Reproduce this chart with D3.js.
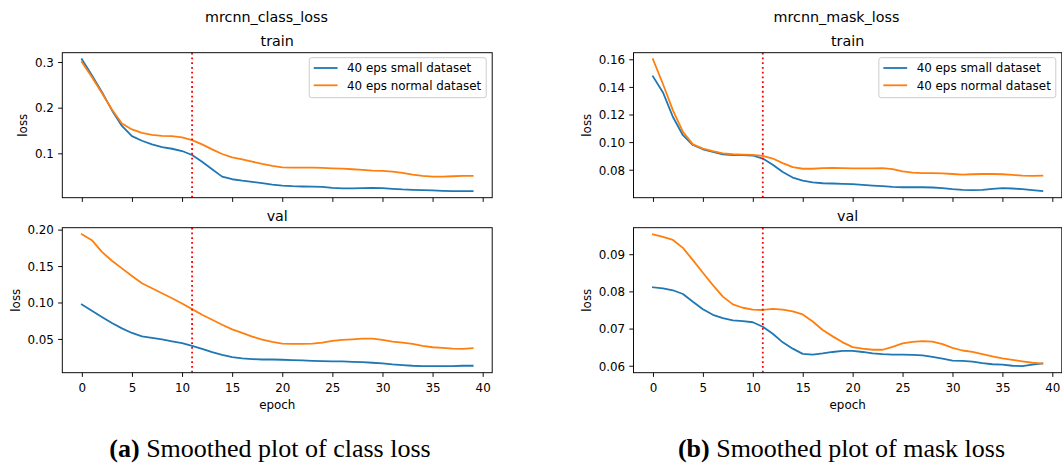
<!DOCTYPE html>
<html>
<head>
<meta charset="utf-8">
<script src="https://d3js.org/d3.v7.min.js"></script>
<style>
  body { margin: 0; background: #fff; }
  svg { display: block; font-family: "DejaVu Sans", sans-serif; }
</style>
</head>
<body>
<svg id="chart"></svg>
<script>
// ---- data ----
const seriesNames = ["40 eps small dataset", "40 eps normal dataset"];
const epochs = d3.range(40);
const markerEpoch = 11;
const xTicks = [0, 5, 10, 15, 20, 25, 30, 35, 40];

const classTrainSmall = [0.306,0.271,0.2345,0.1945,0.160,0.1378,0.1275,0.1196,0.1138,0.110,
  0.105,0.0963,0.0817,0.065,0.0489,0.0432,0.040,0.0373,0.0345,0.0314,
  0.0293,0.028,0.0273,0.027,0.0265,0.0242,0.023,0.023,0.0237,0.0243,
  0.0237,0.0223,0.0208,0.020,0.0194,0.019,0.0179,0.0172,0.0172,0.0172];
const classTrainNormal = [0.300,0.267,0.232,0.196,0.1655,0.1524,0.145,0.1406,0.1384,0.1378,
  0.135,0.129,0.1197,0.1087,0.0985,0.0912,0.0869,0.0817,0.0767,0.0723,
  0.0694,0.0687,0.0687,0.0687,0.068,0.0672,0.0665,0.0651,0.0636,0.0622,
  0.0614,0.060,0.0571,0.0534,0.0505,0.049,0.049,0.0498,0.0505,0.0505];
const classValSmall = [0.0973,0.0886,0.080,0.0718,0.0645,0.0582,0.0536,0.0514,0.0495,0.0468,
  0.0441,0.0405,0.0364,0.0318,0.0282,0.025,0.0232,0.0223,0.0218,0.0218,
  0.0214,0.0209,0.0205,0.020,0.0196,0.0191,0.0191,0.0186,0.0182,0.0173,
  0.0164,0.015,0.0141,0.0132,0.0127,0.0127,0.0127,0.0127,0.0132,0.0132];
const classValNormal = [0.1936,0.1855,0.1695,0.1573,0.1468,0.1364,0.1264,0.1195,0.1127,0.1059,
  0.0986,0.0909,0.0832,0.0764,0.0695,0.0632,0.0582,0.0532,0.0491,0.0459,
  0.0436,0.0432,0.0432,0.0436,0.045,0.0473,0.0486,0.0495,0.0505,0.0505,
  0.0486,0.0464,0.045,0.0432,0.0405,0.0386,0.0377,0.0368,0.0364,0.0373];

const maskTrainSmall = [0.1476,0.136,0.1182,0.105,0.0979,0.0948,0.0929,0.0912,0.0905,0.0905,
  0.0903,0.0881,0.0836,0.0783,0.0743,0.0721,0.0709,0.0702,0.070,0.0697,
  0.0695,0.069,0.0685,0.0681,0.0676,0.0673,0.0673,0.0673,0.0671,0.0666,
  0.0659,0.0654,0.0652,0.0654,0.0661,0.0666,0.0664,0.0659,0.0652,0.0645];
const maskTrainNormal = [0.160,0.1421,0.123,0.1075,0.0984,0.0953,0.0934,0.0919,0.0912,0.091,
  0.0907,0.090,0.0881,0.0848,0.0819,0.0807,0.0807,0.0812,0.0814,0.0812,
  0.081,0.081,0.081,0.0812,0.0805,0.0788,0.0779,0.0776,0.0776,0.0774,
  0.0769,0.0764,0.0767,0.0769,0.0769,0.0767,0.0762,0.0757,0.0755,0.0757];
const maskValSmall = [0.0811,0.0808,0.0803,0.0793,0.0772,0.0752,0.0737,0.0728,0.0722,0.072,
  0.0717,0.0705,0.0686,0.0663,0.0646,0.0632,0.063,0.0633,0.0637,0.064,
  0.064,0.0637,0.0633,0.0631,0.063,0.063,0.0629,0.0628,0.0624,0.0619,
  0.0614,0.0613,0.0611,0.0607,0.0604,0.0603,0.060,0.0599,0.0603,0.0606];
const maskValNormal = [0.09536,0.09464,0.09384,0.0917,0.0884,0.085,0.0817,0.0786,0.0765,0.0756,
  0.0751,0.075,0.0753,0.0751,0.0746,0.0738,0.0719,0.0696,0.0679,0.0663,
  0.065,0.0646,0.0643,0.0643,0.0651,0.066,0.0664,0.0666,0.0665,0.0658,
  0.0648,0.0641,0.0637,0.0631,0.0625,0.062,0.0616,0.0612,0.0608,0.0606];

const classTrainTicks = [0.1, 0.2, 0.3];
const classValTicks = [0.05, 0.10, 0.15, 0.20];
const maskTrainTicks = [0.08, 0.10, 0.12, 0.14, 0.16];
const maskValTicks = [0.06, 0.07, 0.08, 0.09];

const suptitles = ["mrcnn_class_loss", "mrcnn_mask_loss"];
const captions = [["(a)", " Smoothed plot of class loss"], ["(b)", " Smoothed plot of mask loss"]];

// ---- layout ----
const width = 1062, height = 465;
const colors = ["#1f77b4", "#ff7f0e"];
const fs = 11.9, titleFs = 14.3;
const tickLen = 4.2, tickPad = 4.2;

const svg = d3.select("#chart").attr("width", width).attr("height", height);

const cols = [{ x0: 62.3, x1: 492.2, cx: 266.5, capX: 270 },
              { x0: 633.5, x1: 1061.8, cx: 836.5, capX: 841.5 }];
const rows = [{ y0: 52.7, y1: 197.7 }, { y0: 227.7, y1: 372.7 }];

const panels = [
  { col: 0, row: 0, title: "train", data: [classTrainSmall, classTrainNormal], ticks: classTrainTicks, fmt: d3.format(".1f"), legend: true },
  { col: 0, row: 1, title: "val", data: [classValSmall, classValNormal], ticks: classValTicks, fmt: d3.format(".2f") },
  { col: 1, row: 0, title: "train", data: [maskTrainSmall, maskTrainNormal], ticks: maskTrainTicks, fmt: d3.format(".2f"), legend: true },
  { col: 1, row: 1, title: "val", data: [maskValSmall, maskValNormal], ticks: maskValTicks, fmt: d3.format(".2f") },
];

panels.forEach(p => {
  const c = cols[p.col], r = rows[p.row];
  const x = d3.scaleLinear().domain([-1.95, 40.95]).range([c.x0, c.x1]);
  const ext = d3.extent(p.data.flat());
  const pad = (ext[1] - ext[0]) * 0.05;
  const y = d3.scaleLinear().domain([ext[0] - pad, ext[1] + pad]).range([r.y1, r.y0]);

  const g = svg.append("g");

  // clip for lines
  const clipId = `clip-${p.col}-${p.row}`;
  g.append("clipPath").attr("id", clipId)
    .append("rect").attr("x", c.x0).attr("y", r.y0).attr("width", c.x1 - c.x0).attr("height", r.y1 - r.y0);

  const line = d3.line().x((d, i) => x(epochs[i])).y(d => y(d));
  g.append("g").attr("clip-path", `url(#${clipId})`)
    .selectAll("path").data(p.data).join("path")
    .attr("d", line).attr("fill", "none")
    .attr("stroke", (d, i) => colors[i]).attr("stroke-width", 1.8)
    .attr("stroke-linejoin", "round").attr("stroke-linecap", "square");

  // red dotted marker
  g.append("line")
    .attr("x1", x(markerEpoch)).attr("x2", x(markerEpoch))
    .attr("y1", r.y0).attr("y2", r.y1)
    .attr("stroke", "red").attr("stroke-width", 1.8)
    .attr("stroke-dasharray", "1.8,2.97");

  // axes
  const xAxis = g.append("g").attr("transform", `translate(0,${r.y1})`)
    .call(d3.axisBottom(x).tickValues(xTicks).tickSize(tickLen).tickPadding(tickPad)
      .tickFormat(p.row === 0 ? () => "" : d3.format("d")));
  const yAxis = g.append("g").attr("transform", `translate(${c.x0},0)`)
    .call(d3.axisLeft(y).tickValues(p.ticks).tickSize(tickLen).tickPadding(tickPad).tickFormat(p.fmt));
  [xAxis, yAxis].forEach(a => {
    a.select(".domain").remove();
    a.selectAll(".tick line").attr("stroke", "#000").attr("stroke-width", 0.95);
    a.selectAll(".tick text").attr("fill", "#000").style("font-size", fs + "px")
      .style("font-family", '"DejaVu Sans", sans-serif');
  });
  xAxis.selectAll(".tick text").attr("dy", null).attr("y", tickLen + tickPad + 11.0);
  yAxis.selectAll(".tick text").attr("dy", "0.36em");

  // frame
  g.append("rect").attr("x", c.x0).attr("y", r.y0)
    .attr("width", c.x1 - c.x0).attr("height", r.y1 - r.y0)
    .attr("fill", "none").attr("stroke", "#000").attr("stroke-width", 0.95);

  // title
  g.append("text").attr("x", (c.x0 + c.x1) / 2).attr("y", r.y0 - 7.2)
    .attr("text-anchor", "middle").style("font-size", titleFs + "px").text(p.title);

  // y label, placed left of the widest tick label
  let maxW = 0;
  yAxis.selectAll(".tick text").each(function () { maxW = Math.max(maxW, this.getComputedTextLength()); });
  const lx = c.x0 - tickLen - tickPad - maxW - 4.8 - 2.8;
  g.append("text")
    .attr("transform", `translate(${lx},${(r.y0 + r.y1) / 2}) rotate(-90)`)
    .attr("text-anchor", "middle").style("font-size", fs + "px").text("loss");

  if (p.row === 1) {
    g.append("text").attr("x", (c.x0 + c.x1) / 2).attr("y", r.y1 + 36.3)
      .attr("text-anchor", "middle").style("font-size", fs + "px").text("epoch");
  }

  if (p.legend) {
    const lg = g.append("g");
    const box = lg.append("rect");
    const rowsY = [10.3, 27.6];
    const items = lg.selectAll("g").data(seriesNames).join("g");
    items.append("line")
      .attr("x1", 0).attr("x2", 23.8)
      .attr("y1", (d, i) => rowsY[i]).attr("y2", (d, i) => rowsY[i])
      .attr("stroke", (d, i) => colors[i]).attr("stroke-width", 1.8);
    const texts = items.append("text")
      .attr("x", 23.8 + 9.5).attr("y", (d, i) => rowsY[i]).attr("dy", "0.36em")
      .style("font-size", fs + "px").attr("fill", "#000").text(d => d);
    let tw = 0;
    texts.each(function () { tw = Math.max(tw, this.getComputedTextLength()); });
    const bw = 4.5 + 23.8 + 9.5 + tw + 5;
    const bx = c.x1 - 6 - bw, by = r.y0 + 5;
    box.attr("x", -4.5).attr("y", 0).attr("width", bw).attr("height", 40)
      .attr("rx", 2.4).attr("fill", "#fff").attr("fill-opacity", 0.8)
      .attr("stroke", "#ccc").attr("stroke-width", 1);
    lg.attr("transform", `translate(${bx + 4.5},${by})`);
  }
});

// figure titles
svg.selectAll(".suptitle").data(suptitles).join("text")
  .attr("class", "suptitle")
  .attr("x", (d, i) => cols[i].cx).attr("y", 21.5)
  .attr("text-anchor", "middle").style("font-size", titleFs + "px").text(d => d);

// captions
const cap = svg.selectAll(".caption").data(captions).join("text")
  .attr("class", "caption")
  .attr("x", (d, i) => cols[i].capX).attr("y", 457)
  .attr("text-anchor", "middle")
  .style("font-family", '"Liberation Serif", "Times New Roman", serif')
  .style("font-size", "26px");
cap.append("tspan").style("font-weight", "bold").text(d => d[0]);
cap.append("tspan").text(d => d[1]);
</script>
</body>
</html>
